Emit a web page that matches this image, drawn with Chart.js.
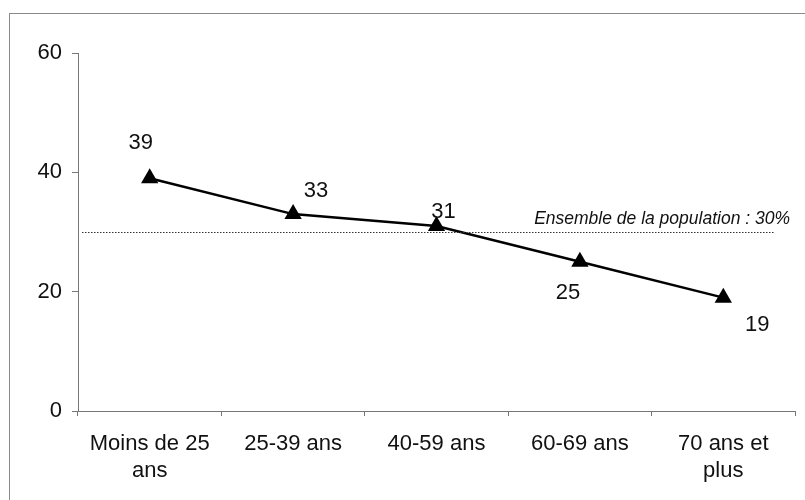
<!DOCTYPE html>
<html>
<head>
<meta charset="utf-8">
<script src="https://cdn.jsdelivr.net/npm/chart.js@4/dist/chart.umd.min.js"></script>
<style>
  html, body { margin: 0; padding: 0; background: #fff; }
  #wrap { position: absolute; left: 0; top: 0; width: 805px; height: 500px; }
</style>
</head>
<body>
<div id="wrap"><canvas id="myChart"></canvas></div>
<script>
'use strict';

// data
let categories = [['Moins de 25', 'ans'], ['25-39 ans'], ['40-59 ans'], ['60-69 ans'], ['70 ans et', 'plus']];
let shares = [39, 33, 31, 25, 19];
let populationShare = 30;
let populationLabel = 'Ensemble de la population : 30%';
let yTicks = [0, 20, 40, 60];

let fontFamily = 'Arial, "Liberation Sans", sans-serif';

// frame round the whole picture
let framePlugin = {
    id: 'frame',
    beforeDraw(chart) {
        let ctx = chart.ctx;
        ctx.save();
        ctx.strokeStyle = '#8a8a8a';
        ctx.lineWidth = 1;
        ctx.strokeRect(9.5, 13.5, 820, 500);
        ctx.restore();
    }
};

// dotted line for the whole population + its italic label
let refLinePlugin = {
    id: 'refLine',
    afterDatasetsDraw(chart) {
        let ctx = chart.ctx;
        let y = Math.round(chart.scales.y.getPixelForValue(populationShare)) + 0.5;
        let area = chart.chartArea;
        ctx.save();
        ctx.strokeStyle = '#333';
        ctx.lineWidth = 1;
        ctx.setLineDash([1.5, 1.5]);
        ctx.beginPath();
        ctx.moveTo(area.left + 4, y);
        ctx.lineTo(775, y);
        ctx.stroke();
        ctx.setLineDash([]);
        ctx.fillStyle = '#111';
        ctx.font = 'italic 17.5px ' + fontFamily;
        ctx.textAlign = 'right';
        ctx.textBaseline = 'alphabetic';
        ctx.fillText(populationLabel, 790, y - 9);
        ctx.restore();
    }
};

// value labels next to each point
let valueLabelPlugin = {
    id: 'valueLabels',
    afterDatasetsDraw(chart) {
        let ctx = chart.ctx;
        let meta = chart.getDatasetMeta(0);
        let offsets = [[-9, -35], [23, -23], [7, -14], [-12, 31], [34, 27]];
        ctx.save();
        ctx.fillStyle = '#111';
        ctx.font = '22px ' + fontFamily;
        ctx.textAlign = 'center';
        ctx.textBaseline = 'middle';
        meta.data.forEach(function (pt, i) {
            ctx.fillText(String(shares[i]), pt.x + offsets[i][0], pt.y + offsets[i][1]);
        });
        ctx.restore();
    }
};

let ctx = document.getElementById('myChart').getContext('2d');
let myChart = new Chart(ctx, {
    type: 'line',
    data: {
        labels: categories,
        datasets: [{
            data: shares,
            borderColor: '#000',
            backgroundColor: '#000',
            borderWidth: 2.5,
            pointStyle: 'triangle',
            pointRadius: 10,
            pointBorderWidth: 0,
            tension: 0
        }]
    },
    options: {
        responsive: true,
        maintainAspectRatio: false,
        animation: false,
        layout: { padding: { top: 53, right: 10, left: 0, bottom: 0 } },
        plugins: {
            legend: { display: false },
            tooltip: { enabled: false }
        },
        scales: {
            x: {
                offset: true,
                afterFit(scale) { scale.height = 89; },
                border: { color: '#777', width: 1 },
                grid: {
                    offset: true,
                    drawOnChartArea: false,
                    drawTicks: true,
                    tickLength: 5,
                    color: '#777'
                },
                ticks: {
                    color: '#111',
                    padding: 14,
                    maxRotation: 0,
                    autoSkip: false,
                    font: { family: fontFamily, size: 22, lineHeight: 1.25 }
                }
            },
            y: {
                min: 0,
                max: 60,
                afterFit(scale) { scale.width = 78; },
                afterBuildTicks(scale) {
                    scale.ticks = yTicks.map(function (v) { return { value: v }; });
                },
                border: { color: '#777', width: 1 },
                grid: {
                    drawOnChartArea: false,
                    drawTicks: true,
                    tickLength: 6,
                    color: '#777'
                },
                ticks: {
                    color: '#111',
                    padding: 10,
                    font: { family: fontFamily, size: 22 }
                }
            }
        }
    },
    plugins: [framePlugin, refLinePlugin, valueLabelPlugin]
});
</script>
</body>
</html>
